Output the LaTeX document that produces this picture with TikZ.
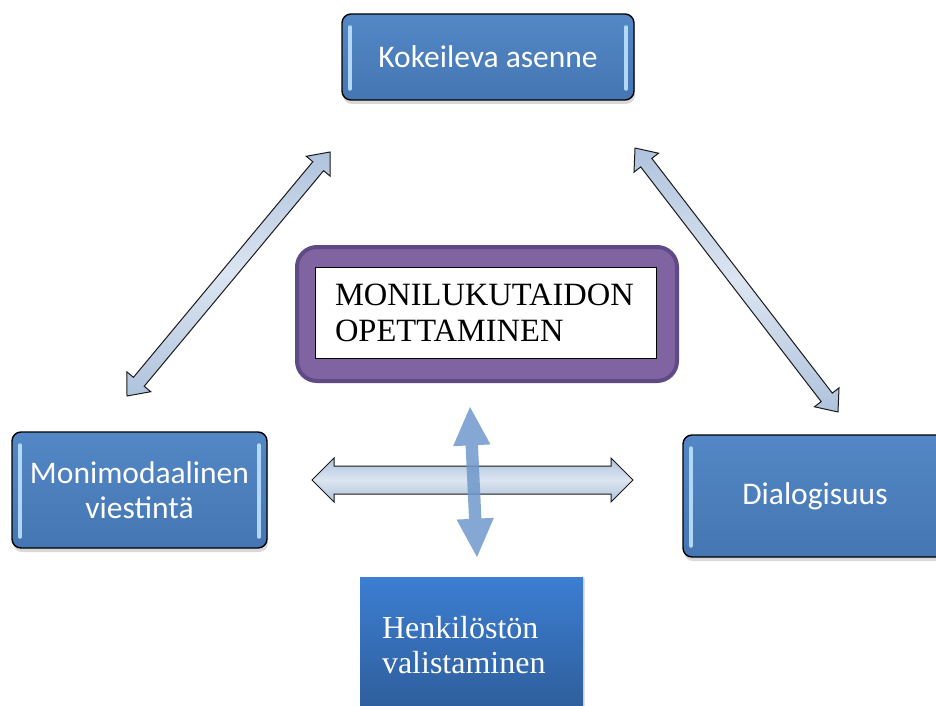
\documentclass[tikz,border=0pt]{standalone}
\usepackage{fontspec}
\setmainfont{Liberation Serif}
\newfontfamily\calibri{Carlito}
\usetikzlibrary{shapes.arrows,shadows,calc}

\definecolor{lasisini}{HTML}{4F81BD}
\definecolor{lasiyla}{HTML}{5387C5}
\definecolor{lasiala}{HTML}{4576B3}
\definecolor{kiilto}{HTML}{C4E8FF}
\definecolor{violetti}{HTML}{8064A2}
\definecolor{violettireuna}{HTML}{5E4A85}
\definecolor{nuolireuna}{HTML}{1A1A1A}
\definecolor{nuolivaalea}{HTML}{DCE5F1}
\definecolor{nuolisini}{HTML}{AFC3DD}
\definecolor{pystysini}{HTML}{6E98CB}
\definecolor{alayla}{HTML}{3C7ED2}
\definecolor{alaala}{HTML}{2E5D9A}

\begin{document}
\begin{tikzpicture}[x=1pt,y=-1pt]
			\tikzset{lasi/.style={rectangle, rounded corners=9pt, draw=black, line width=1.4pt,
				top color=lasiyla, bottom color=lasiala, text=white, align=center,
				font=\calibri\fontsize{31.5}{35}\selectfont, inner sep=0pt,
				drop shadow={shadow xshift=1pt, shadow yshift=-4pt, opacity=0.3},
				path picture={
					\draw[kiilto, line width=3.5pt, line cap=round, opacity=0.85]
						([xshift=8pt,yshift=-13pt]path picture bounding box.north west) --
						([xshift=8pt,yshift=11pt]path picture bounding box.south west);
					\draw[kiilto, line width=3.5pt, line cap=round, opacity=0.85]
						([xshift=-8pt,yshift=-13pt]path picture bounding box.north east) --
						([xshift=-8pt,yshift=11pt]path picture bounding box.south east);
				}},
			nuoli/.style={double arrow, draw=nuolireuna, line width=1pt, inner xsep=0pt,
				top color=nuolisini, bottom color=nuolisini, middle color=nuolivaalea},
			pystynuoli/.style={double arrow, fill=pystysini, fill opacity=0.85, inner xsep=0pt,
				inner ysep=6pt, double arrow head extend=12.5pt, double arrow tip angle=52}};

			\useasboundingbox (0,0) rectangle (936,706);

			% laatikot
			\node[lasi, minimum width=292pt, minimum height=86pt] (kokeilu) at (488,57) {Kokeileva asenne};
			\node[lasi, minimum width=255pt, minimum height=116pt] (monimod) at (139.5,490) {Monimodaalinen\\viestintä};
			\node[lasi, minimum width=264pt, minimum height=122pt] (dialogi) at (815,496) {Dialogisuus};

			\node[rectangle, rounded corners=20pt, draw=violettireuna, line width=4pt, fill=violetti,
				minimum width=380pt, minimum height=134pt] (kehys) at (487,314) {};
			\node[rectangle, draw=black, line width=0.8pt, fill=white, minimum width=341pt, minimum height=91pt,
				text width=301pt, align=left, inner xsep=20pt, font=\fontsize{32.5}{36}\selectfont] (monilu) at (485.5,312.5)
				{MONILUKUTAIDON\\OPETTAMINEN};

			\node[rectangle, top color=alayla, bottom color=alaala, text=white, minimum width=223pt,
				minimum height=136pt, text width=179pt, inner xsep=22pt, align=left,
				drop shadow={shadow xshift=2pt, shadow yshift=-1pt, opacity=0.25},
				font=\fontsize{32}{35}\selectfont] (henkilo) at (471.5,645) {Henkilöstön\\valistaminen};

			% nuolet
			\coordinate (v1) at (127,396);
			\coordinate (v2) at (330,152);
			\coordinate (o1) at (635,148);
			\coordinate (o2) at (838,412);
			\coordinate (h1) at (312,480);
			\coordinate (h2) at (633,480);
			\coordinate (p1) at (470,407);
			\coordinate (p2) at (477,557);

			\path let \p1=($(v2)-(v1)$), \n1={veclen(\x1,\y1)} in (v1) -- (v2)
				node[nuoli, sloped, midway, minimum height=\n1, inner ysep=6.5pt,
				double arrow head extend=8.5pt, double arrow tip angle=80] {};
			\path let \p1=($(o2)-(o1)$), \n1={veclen(\x1,\y1)} in (o1) -- (o2)
				node[nuoli, sloped, midway, minimum height=\n1, inner ysep=6.5pt,
				double arrow head extend=8.5pt, double arrow tip angle=80] {};
			\path let \p1=($(h2)-(h1)$), \n1={veclen(\x1,\y1)} in (h1) -- (h2)
				node[nuoli, sloped, midway, minimum height=\n1, inner ysep=13.5pt,
				double arrow head extend=8pt, double arrow tip angle=90] {};
			\path let \p1=($(p2)-(p1)$), \n1={veclen(\x1,\y1)} in (p1) -- (p2)
				node[pystynuoli, sloped, midway, minimum height=\n1] {};
		\end{tikzpicture}
\end{document}
